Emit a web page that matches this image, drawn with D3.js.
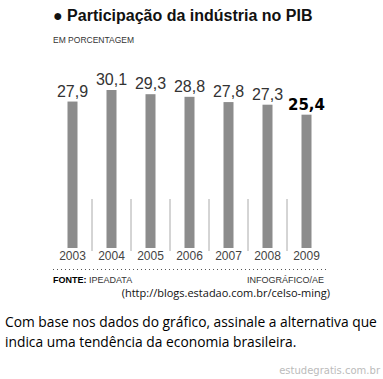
<!DOCTYPE html>
<html>
<head>
<meta charset="utf8">
<style>
  body { margin: 0; background: #fff; }
  .narrow { font-family: "Liberation Sans Narrow", "Liberation Sans", sans-serif; }
</style>
</head>
<body>
<svg width="383" height="379"></svg>
<script src="https://d3js.org/d3.v7.min.js"></script>
<script>
// data
var years = ["2003", "2004", "2005", "2006", "2007", "2008", "2009"];
var values = [27.9, 30.1, 29.3, 28.8, 27.8, 27.3, 25.4];
var valueLabels = ["27,9", "30,1", "29,3", "28,8", "27,8", "27,3", "25,4"];

var svg = d3.select("svg");

var x = d3.scalePoint().domain(years).range([53, 326]).padding(0.5);
var y = d3.scaleLinear().domain([0, 30.1]).range([248, 90]);
var step = x.step();
var barW = 10;

// title
svg.append("text")
  .attr("x", 53).attr("y", 21)
  .attr("font-family", "Liberation Sans, Arial, sans-serif")
  .attr("font-weight", "bold")
  .attr("font-size", 16)
  .attr("fill", "#111")
  .text("\u25CF Participação da indústria no PIB");

svg.append("text")
  .attr("x", 53).attr("y", 43)
  .attr("class", "narrow")
  .attr("font-size", 8.5)
  .attr("fill", "#333")
  .text("EM PORCENTAGEM");

// separators between the years
svg.append("g").selectAll("line")
  .data(years.slice(1))
  .enter().append("line")
  .attr("x1", d => x(d) - step / 2)
  .attr("x2", d => x(d) - step / 2)
  .attr("y1", 199).attr("y2", 251)
  .attr("stroke", "#aaa")
  .attr("stroke-width", 1);

// bars
svg.append("g").selectAll("rect")
  .data(values)
  .enter().append("rect")
  .attr("x", (d, i) => x(years[i]) - barW / 2)
  .attr("y", d => y(d))
  .attr("width", barW)
  .attr("height", d => y(0) - y(d))
  .attr("fill", "#8c8c8c");

// value labels
svg.append("g").selectAll("text")
  .data(values)
  .enter().append("text")
  .attr("x", (d, i) => x(years[i]))
  .attr("y", (d, i) => y(d) - 5)
  .attr("text-anchor", "middle")
  .attr("font-family", (d, i) => i == 6 ? "DejaVu Sans, sans-serif" : "Liberation Sans Narrow, sans-serif")
  .attr("font-weight", (d, i) => i == 6 ? "bold" : "normal")
  .attr("font-size", (d, i) => i == 6 ? 15 : 16)
  .attr("fill", (d, i) => i == 6 ? "#000" : "#333")
  .text((d, i) => valueLabels[i]);

// year axis
svg.append("g").selectAll("text")
  .data(years)
  .enter().append("text")
  .attr("class", "narrow")
  .attr("x", d => x(d))
  .attr("y", 260)
  .attr("text-anchor", "middle")
  .attr("font-size", 12)
  .attr("fill", "#444")
  .text(d => d);

// dotted rule
svg.append("line")
  .attr("x1", 53).attr("x2", 326)
  .attr("y1", 269.5).attr("y2", 269.5)
  .attr("stroke", "#555")
  .attr("stroke-dasharray", "1,3");

// footer
var src = svg.append("text")
  .attr("x", 53).attr("y", 283)
  .attr("class", "narrow")
  .attr("font-size", 9)
  .attr("fill", "#333");
src.append("tspan").attr("font-weight", "bold").attr("fill", "#000").text("FONTE:");
src.append("tspan").text(" IPEADATA");

svg.append("text")
  .attr("x", 324).attr("y", 283)
  .attr("text-anchor", "end")
  .attr("class", "narrow")
  .attr("font-size", 9)
  .attr("fill", "#333")
  .text("INFOGRÁFICO/AE");

svg.append("text")
  .attr("x", 330).attr("y", 297)
  .attr("text-anchor", "end")
  .attr("font-family", "Open Sans, sans-serif")
  .attr("font-size", 11)
  .attr("fill", "#111")
  .text("(http://blogs.estadao.com.br/celso-ming)");

svg.append("text")
  .attr("x", 5).attr("y", 327)
  .attr("font-family", "Open Sans, sans-serif")
  .attr("font-size", 13.8)
  .attr("fill", "#000")
  .text("Com base nos dados do gráfico, assinale a alternativa que");

svg.append("text")
  .attr("x", 5).attr("y", 347)
  .attr("font-family", "Open Sans, sans-serif")
  .attr("font-size", 13.8)
  .attr("fill", "#000")
  .text("indica uma tendência da economia brasileira.");

svg.append("text")
  .attr("x", 380).attr("y", 374)
  .attr("text-anchor", "end")
  .attr("font-family", "DejaVu Sans, sans-serif")
  .attr("font-size", 10)
  .attr("fill", "#bbb")
  .text("estudegratis.com.br");
</script>
</body>
</html>
